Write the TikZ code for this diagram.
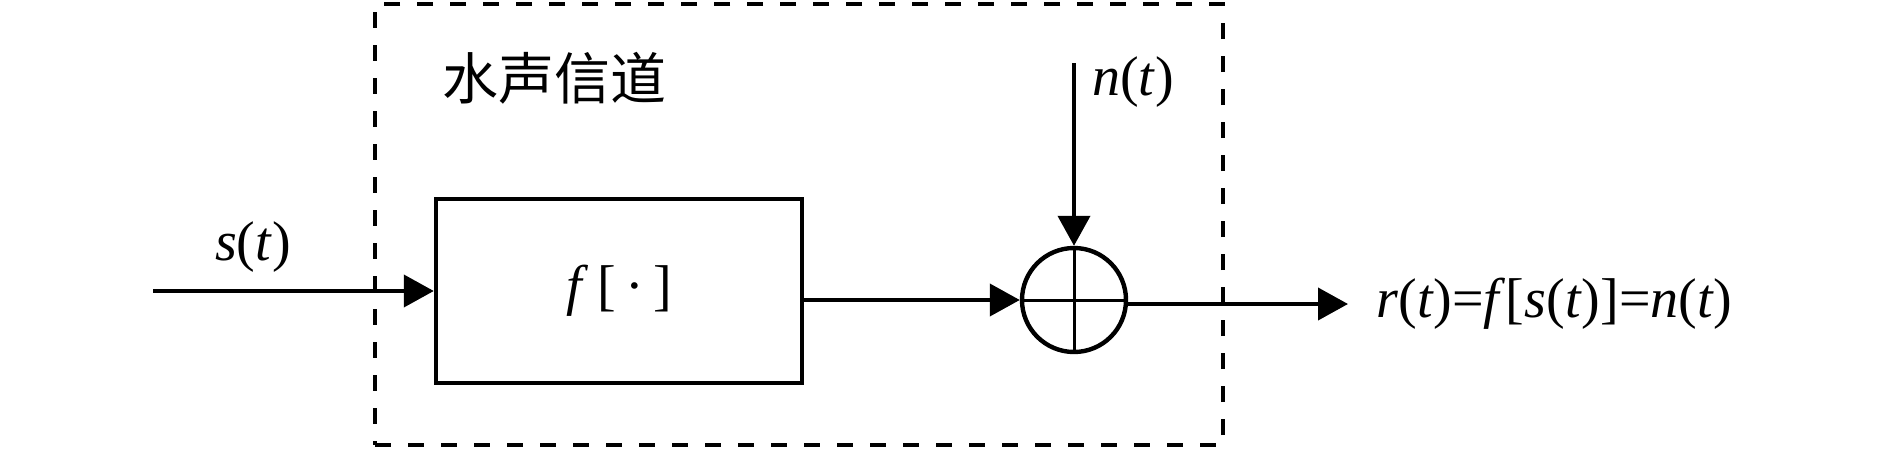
\documentclass[tikz,border=0pt]{standalone}
\usepackage{fontspec}
\setmainfont{Liberation Serif}
\newfontfamily\cjk{Noto Sans CJK SC}
\usetikzlibrary{positioning,arrows.meta}
\newcommand{\ivar}[1]{\textit{#1}}

\begin{document}
\begin{tikzpicture}[x=0.5pt,y=-0.5pt,
    chan/.style={rectangle,draw,line width=2.2pt,dash pattern=on 8pt off 8.5pt,minimum width=424pt,minimum height=220.5pt,inner sep=0},
    block/.style={rectangle,draw,line width=2.2pt,minimum width=183pt,minimum height=92pt,font=\fontsize{28}{30}\selectfont},
    adder/.style={circle,draw,line width=2.2pt,minimum size=52pt,inner sep=0},
    lbl/.style={font=\fontsize{28}{30}\selectfont,inner sep=0},
    arrow/.style={-{Triangle[length=15pt,width=16pt]},line width=2pt}
]
\useasboundingbox (0,0) rectangle (1890,450);

% Channel frame
\node[chan] (channel) at (799,224.5) {};
\node[font=\cjk\fontsize{28}{30}\selectfont,inner sep=0] (chan-title) at (554,78) {水声信道};

% Nonlinear block
\node[block] (fbox) at (619,291) {\ivar{f}\,[\,·\,]};

% Adder
\node[adder] (sum) at (1074,300) {};
\draw[line width=1.5pt] (sum.north) -- (sum.south);
\draw[line width=1.5pt] (sum.west) -- (sum.east);

% Input signal
\coordinate (sig-in) at (153,291);
\draw[arrow] (sig-in) -- (fbox.west);
\node[lbl] (s-lbl) at (253,247) {\ivar{s}(\ivar{t})};

% Block to adder
\draw[arrow] (fbox.east |- sum.west) -- (sum.west);

% Noise
\coordinate (noise-in) at (1074,63);
\draw[arrow] (noise-in) -- (sum.north);
\node[lbl] (n-lbl) at (1133,82) {\ivar{n}(\ivar{t})};

% Output
\coordinate (sig-out) at (1348,304);
\draw[arrow] (sum.east |- sig-out) -- (sig-out);
\node[lbl,right=14pt of sig-out] (r-lbl) {\ivar{r}(\ivar{t})=\ivar{f}[\ivar{s}(\ivar{t})]=\ivar{n}(\ivar{t})};

\end{tikzpicture}
\end{document}
